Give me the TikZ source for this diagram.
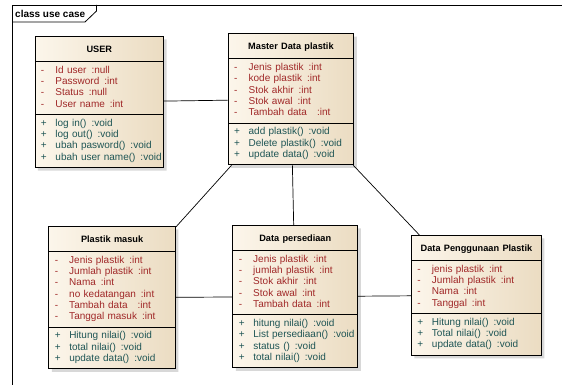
\documentclass[tikz,border=0pt]{standalone}
\usepackage{fontspec}
\setmainfont{Liberation Sans}
\usetikzlibrary{shapes.multipart,shadows}
\setlength{\parindent}{0pt}

\definecolor{attrred}{RGB}{160,40,40}
\definecolor{opteal}{RGB}{30,85,85}
\definecolor{boxlight}{RGB}{252,246,235}
\definecolor{boxdark}{RGB}{235,220,194}

\newcommand{\attr}[1]{\strut\makebox[14.5pt][l]{-}\mbox{#1}}
\newcommand{\oper}[1]{\strut\makebox[14.5pt][l]{+}\mbox{#1}}
\newcommand{\ctitle}[1]{\makebox[\hsize][c]{\rule[-4.9pt]{0pt}{17pt}\fontsize{9.2}{11.3}\selectfont\textbf{#1}}}
\newcommand{\gap}{\hspace{5pt}}

\begin{document}
\begin{tikzpicture}[x=1pt,y=-1pt,
    umlclass/.style={rectangle split, rectangle split parts=3, draw=black, line width=0.9pt,
      left color=boxlight, right color=boxdark, text width=#1, align=left,
      inner xsep=6pt, inner ysep=3.5pt, font=\fontsize{10}{11.3}\selectfont,
      drop shadow={shadow xshift=3pt, shadow yshift=-3pt, fill=black!30},
      anchor=north west},
    link/.style={draw=black, line width=0.7pt}]
  \useasboundingbox (0,0) rectangle (562,385);

  % frame
  \draw[line width=0.8pt] (562,5) -- (12,5) -- (12,385);
  \draw[line width=0.8pt] (12,22) -- (85,22) -- (96.5,11) -- (96.5,5);
  \node (frametitle) at (15,13.5) [anchor=west, inner sep=0pt, font=\fontsize{10}{11}\selectfont\bfseries] {class use case};

  % classes
  \node (user) at (34.5,36) [umlclass=116.7pt] {\ctitle{USER}
    \nodepart[text=attrred]{two}\attr{Id user\gap:null}\\\attr{Password\gap:int}\\\attr{Status\gap:null}\\\attr{User name\gap:int}
    \nodepart[text=opteal]{three}\oper{log in()\gap:void}\\\oper{log out()\gap:void}\\\oper{ubah pasword()\gap:void}\\\oper{ubah user name()\gap:void}};
  \node (master) at (227.7,33.3) [umlclass=113.6pt] {\ctitle{Master Data plastik}
    \nodepart[text=attrred]{two}\attr{Jenis plastik\gap:int}\\\attr{kode plastik\gap:int}\\\attr{Stok akhir\gap:int}\\\attr{Stok awal\gap:int}\\\attr{Tambah data\gap\gap:int}
    \nodepart[text=opteal]{three}\oper{add plastik()\gap:void}\\\oper{Delete plastik()\gap:void}\\\oper{update data()\gap:void}};
  \node (masuk) at (48.3,226) [umlclass=114.7pt] {\ctitle{Plastik masuk}
    \nodepart[text=attrred]{two}\attr{Jenis plastik\gap:int}\\\attr{Jumlah plastik\gap:int}\\\attr{Nama\gap:int}\\\attr{no kedatangan\gap:int}\\\attr{Tambah data\gap\gap:int}\\\attr{Tanggal masuk\gap:int}
    \nodepart[text=opteal]{three}\oper{Hitung nilai()\gap:void}\\\oper{total nilai()\gap:void}\\\oper{update data()\gap:void}};
  \node (persediaan) at (232.3,225) [umlclass=113pt] {\ctitle{Data persediaan}
    \nodepart[text=attrred]{two}\attr{Jenis plastik\gap:int}\\\attr{jumlah plastik\gap:int}\\\attr{Stok akhir\gap:int}\\\attr{Stok awal\gap:int}\\\attr{Tambah data\gap:int}
    \nodepart[text=opteal]{three}\oper{hitung nilai()\gap:void}\\\oper{List persediaan()\gap:void}\\\oper{status ()\gap:void}\\\oper{total nilai()\gap:void}};
  \node (penggunaan) at (411,235) [umlclass=118pt] {\ctitle{Data Penggunaan Plastik}
    \nodepart[text=attrred]{two}\attr{jenis plastik\gap:int}\\\attr{Jumlah plastik\gap:int}\\\attr{Nama\gap:int}\\\attr{Tanggal\gap:int}
    \nodepart[text=opteal]{three}\oper{Hitung nilai()\gap:void}\\\oper{Total nilai()\gap:void}\\\oper{update data()\gap:void}};

  % associations
  \draw[link] (user) -- (master);
  \draw[link] (master) -- (masuk);
  \draw[link] (master) -- (persediaan);
  \draw[link] (master) -- (penggunaan);
  \draw[link] (masuk) -- (persediaan);
  \draw[link] (persediaan) -- (penggunaan);
\end{tikzpicture}
\end{document}
